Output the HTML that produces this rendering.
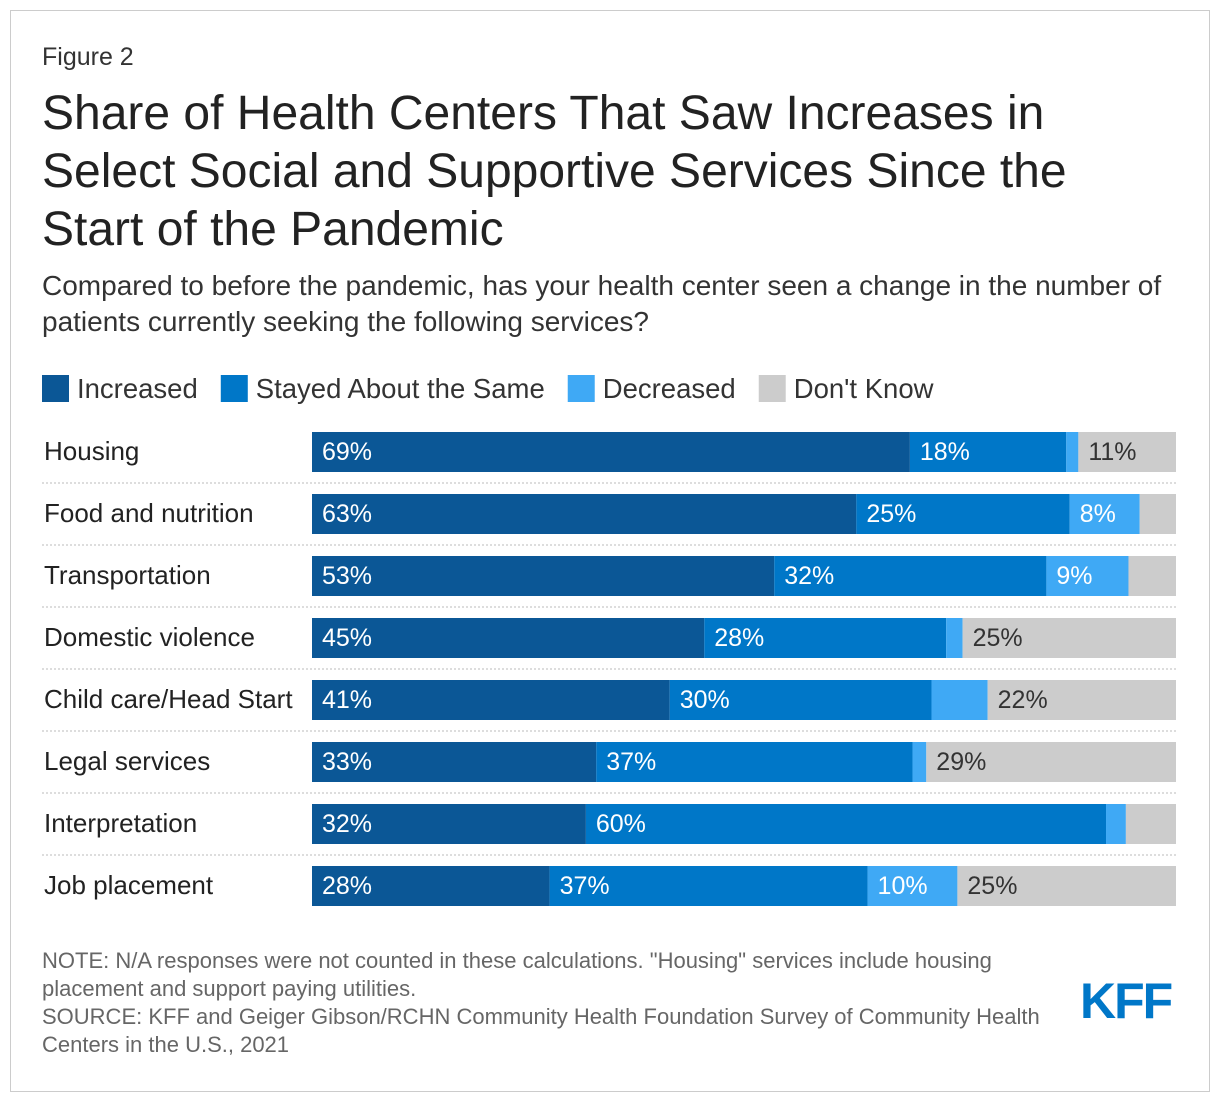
<!DOCTYPE html>
<html><head><meta charset="utf-8">
<style>
body{margin:0;background:#fff;font-family:"Liberation Sans",Arial,sans-serif;color:#222;}
#frame{position:absolute;left:10px;top:10px;width:1198px;height:1080px;border:1px solid #ccc;}
.t{position:absolute;white-space:nowrap;}
</style></head><body>
<div id="frame"></div>
<div class="t" style="left:42px;top:43px;font-size:25px;color:#333">Figure 2</div>
<div class="t" style="left:42px;top:85px;font-size:48px;line-height:58px;color:#222">Share of Health Centers That Saw Increases in<br>Select Social and Supportive Services Since the<br>Start of the Pandemic</div>
<div class="t" style="left:42px;top:268px;font-size:28px;line-height:36px;color:#333">Compared to before the pandemic, has your health center seen a change in the number of<br>patients currently seeking the following services?</div>
<svg id="chart" width="1220" height="1102" style="position:absolute;left:0;top:0"></svg>
<div class="t" style="left:42px;top:947px;font-size:22px;line-height:28px;color:#666">NOTE: N/A responses were not counted in these calculations. "Housing" services include housing<br>placement and support paying utilities.<br>SOURCE: KFF and Geiger Gibson/RCHN Community Health Foundation Survey of Community Health<br>Centers in the U.S., 2021</div>
<div class="t" style="left:1080px;top:972px;font-size:50px;font-weight:bold;color:#0077c8;letter-spacing:-2px">KFF</div>
<script>
const categories=["Housing","Food and nutrition","Transportation","Domestic violence","Child care/Head Start","Legal services","Interpretation","Job placement"];
const seriesNames=["Increased","Stayed About the Same","Decreased","Don't Know"];
const increased=[69.2,63.0,53.5,45.4,41.4,32.9,31.7,27.5];
const same=[18.1,24.7,31.5,28.0,30.3,36.6,60.2,36.8];
const decreased=[1.4,8.1,9.5,1.9,6.5,1.6,2.3,10.4];
const dontKnow=[11.3,4.2,5.5,24.7,21.8,28.9,5.8,25.3];
const labelInc=["69%","63%","53%","45%","41%","33%","32%","28%"];
const labelSame=["18%","25%","32%","28%","30%","37%","60%","37%"];
const labelDec=["","8%","9%","","","","","10%"];
const labelDk=["11%","","","25%","22%","29%","","25%"];
const colors=["#0b5796","#0077c8","#3fa9f5","#cccccc"];
const NS="http://www.w3.org/2000/svg";
const svg=document.getElementById('chart');
const x0=312,plotW=864,rowTop=432,rowStep=62,barH=40;
const xs=v=>v/100*plotW;
const yRow=i=>rowTop+i*rowStep;
function mk(tag,attrs){const e=document.createElementNS(NS,tag);for(const k in attrs)e.setAttribute(k,attrs[k]);svg.appendChild(e);return e;}
let lx=42;
seriesNames.forEach((n,i)=>{
  const r=mk('rect',{x:lx,y:375,width:27,height:27,fill:colors[i]});
  
  
  const t=mk('text',{x:lx+35,y:398,'font-size':27.5,fill:'#333'});
  t.textContent=n;
  
  
  lx+=35+t.getComputedTextLength()+23;
});
const series=[increased,same,decreased,dontKnow];
const labels=[labelInc,labelSame,labelDec,labelDk];
categories.forEach((c,i)=>{
  const y=yRow(i);
  const ct=mk('text',{x:44,y:y+28,'font-size':26,fill:'#222'});
  ct.textContent=c;
  
  
  if(i<categories.length-1){
    const l=mk('line',{x1:42,x2:1176,y1:y+51,y2:y+51,stroke:'#bbb','stroke-dasharray':'2,2'});
    
    
  }
  let cx=x0;
  series.forEach((s,j)=>{
    const w=xs(s[i]);
    const r=mk('rect',{x:cx,y:y,width:w,height:barH,fill:colors[j]});
    
    
    if(labels[j][i]){
      const t=mk('text',{x:cx+10,y:y+28,'font-size':25,fill:j==3?'#333':'#fff'});
      t.textContent=labels[j][i];
      
      
    }
    cx+=w;
  });
});
</script>
</body></html>
